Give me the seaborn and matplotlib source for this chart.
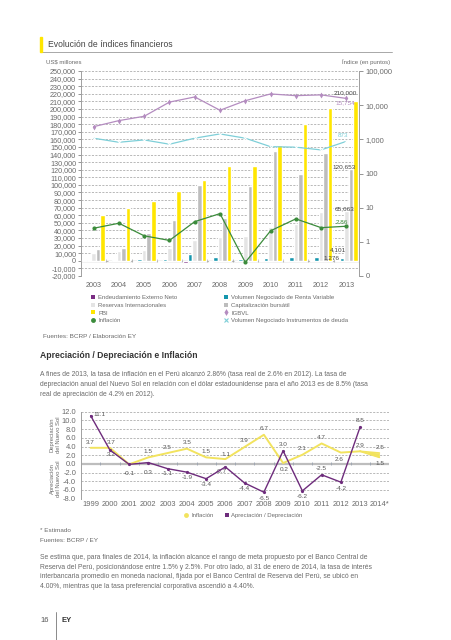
import numpy as np
import pandas as pd
import matplotlib
matplotlib.use("Agg")
import matplotlib.pyplot as plt
import seaborn as sns
from matplotlib.lines import Line2D
from matplotlib.ticker import NullLocator

# ---------------- data: top chart ----------------
years = ['2003', '2004', '2005', '2006', '2007', '2008', '2009', '2010', '2011', '2012', '2013']
endeudamiento = [600, 300, -2000, -1500, -2500, -1200, -800, 700, 600, 900, 1276]
vol_renta_variable = [500, 700, 2000, 2800, 9000, 5000, 2400, 3300, 4600, 4600, 4101]
reservas = [10194, 12631, 14120, 17275, 27689, 31196, 33135, 44105, 48816, 63991, 65663]
capitalizacion = [15000, 17500, 36000, 54000, 100000, 57000, 98000, 144000, 114000, 142000, 120653]
pbi = [61000, 70000, 79000, 92000, 106000, 125000, 125000, 153000, 180000, 201000, 210000]
igbvl = [2350, 3530, 4730, 12300, 17400, 7100, 13500, 21300, 19000, 20000, 15754]
vol_deuda = [1080, 820, 960, 720, 1080, 1440, 1080, 610, 590, 490, 873]
inflacion_top = [2.5, 3.5, 1.5, 1.1, 3.9, 6.7, 0.25, 2.1, 4.7, 2.6, 2.86]

bar_series = ['Endeudamiento Externo Neto', 'Volumen Negociado de Renta Variable',
              'Reservas Internacionales', 'Capitalización bursátil', 'PBI']

# ---------------- data: bottom chart ----------------
years2 = ['1999', '2000', '2001', '2002', '2003', '2004', '2005', '2006', '2007',
          '2008', '2009', '2010', '2011', '2012', '2013', '2014*']
inflacion = [3.7, 3.7, -0.1, 1.5, 2.5, 3.5, 1.5, 1.1, 3.9, 6.7, 0.2, 2.1, 4.7, 2.6, 2.9]
inflacion_2014 = [2.5, 1.5]
apreciacion = [11.1, 3.2, -0.1, 0.3, -1.1, -1.9, -3.4, -0.7, -4.4, -6.5, 3.0, -6.2, -2.5, -4.2, 8.5]

# ---------------- style ----------------
sns.set_style("white")
plt.rcParams['font.family'] = ['Liberation Sans', 'DejaVu Sans']

C_PURPLE = '#7a2d83'
C_TEAL = '#1596ad'
C_LGREY = '#e4e4e4'
C_GREY = '#bdbdbd'
C_YELLOW = '#ffe600'
C_GREEN = '#3c8c3c'
C_IGBVL = '#b48cc0'
C_CYAN = '#7fcfd8'
C_TXT = '#6a6a6a'
C_GRID = '#9c9c9c'
C_SPINE = '#a0a0a0'

W, H = 451, 640
fig = plt.figure(figsize=(W / 100, H / 100), dpi=100)


def fx(x):
    return x / W


def fy(y):
    return 1 - y / H


# ---------------- header ----------------
fig.patches.append(plt.Rectangle((fx(40), fy(52)), fx(2.3), 15 / H, transform=fig.transFigure,
                                 color=C_YELLOW, zorder=5))
fig.add_artist(Line2D([fx(40), fx(392)], [fy(52), fy(52)], transform=fig.transFigure,
                      color='#9a9a9a', lw=0.6))
fig.text(fx(48), fy(44.5), 'Evolución de índices financieros', fontsize=6.2, color='#444444',
         va='center', ha='left')
fig.text(fx(46), fy(62), 'US$ millones', fontsize=4.3, color=C_TXT, va='center', ha='left')
fig.text(fx(390), fy(62), 'Índice (en puntos)', fontsize=4.3, color=C_TXT, va='center', ha='right')

# ---------------- top chart ----------------
ax = fig.add_axes([fx(81), fy(276), fx(359) - fx(81), fy(71) - fy(276)])
rows = []
for name, vals in zip(bar_series, [endeudamiento, vol_renta_variable, reservas, capitalizacion, pbi]):
    for yr, v in zip(years, vals):
        rows.append({'Año': yr, 'Serie': name, 'Valor': v})
df = pd.DataFrame(rows)
sns.barplot(data=df, x='Año', y='Valor', hue='Serie', hue_order=bar_series,
            palette=[C_PURPLE, C_TEAL, C_LGREY, C_GREY, C_YELLOW], width=0.9,
            saturation=1, errorbar=None, legend=False, ax=ax, zorder=3)
ax.set_xlim(-0.5, len(years) - 0.5)
ax.set_ylim(-20000, 250000)
yt = list(range(-20000, 250001, 10000))
ax.set_yticks(yt)
ax.set_yticklabels([f'{v:,}' for v in yt])
ax.set_xlabel('')
ax.set_ylabel('')
ax.yaxis.grid(True, linestyle=(0, (3, 2)), color=C_GRID, lw=0.5)
ax.xaxis.grid(False)
ax.set_axisbelow(True)
ax.axhline(0, color='#b5b5b5', lw=1.0, zorder=2)
ax.vlines(np.arange(0.5, len(years) - 1, 1), -1800, 1800, color=C_SPINE, lw=0.5, zorder=2)
for s in ['top', 'bottom']:
    ax.spines[s].set_visible(False)
for s in ['left', 'right']:
    ax.spines[s].set_color(C_SPINE)
    ax.spines[s].set_linewidth(0.7)
ax.tick_params(axis='y', labelsize=5.2, colors=C_TXT, length=2, width=0.5, pad=1.5)
ax.tick_params(axis='x', which='major', labelsize=5.2, colors=C_TXT, length=0, pad=4)
ax.set_xticks(np.arange(0.5, len(years) - 1, 1), minor=True)
ax.tick_params(axis='x', which='minor', length=4, width=0.5, color=C_SPINE)

ax2 = ax.twinx()
ax2.set_yscale('log')
pos = np.arange(len(years))
sns.lineplot(x=pos, y=igbvl, ax=ax2, color=C_IGBVL, marker='d', markersize=3,
             markeredgewidth=0, lw=0.9)
sns.lineplot(x=pos, y=vol_deuda, ax=ax2, color=C_CYAN, marker='x', markersize=3,
             markeredgewidth=0.7, lw=0.9)
sns.lineplot(x=pos, y=inflacion_top, ax=ax2, color=C_GREEN, marker='o', markersize=3,
             markeredgewidth=0, lw=0.9)
ax2.set_ylim(0.1, 1e5)
ax2.set_xlim(-0.5, len(years) - 0.5)
ax2.set_yticks([0.1, 1, 10, 100, 1000, 10000, 100000])
ax2.set_yticklabels(['0', '1', '10', '100', '1,000', '10,000', '100,000'])
ax2.yaxis.set_minor_locator(NullLocator())
ax2.set_xlabel('')
ax2.set_ylabel('')
for s in ['top', 'bottom', 'left']:
    ax2.spines[s].set_visible(False)
ax2.spines['right'].set_color(C_SPINE)
ax2.spines['right'].set_linewidth(0.7)
ax2.tick_params(axis='y', labelsize=5.4, colors=C_TXT, length=3, width=0.5, pad=1.5)

last = len(years) - 1
ann = dict(textcoords='offset pixels', ha='right', va='center', fontsize=4.6)
ax.annotate(f'{pbi[-1]:,}', (last, pbi[-1]), xytext=(10.6, 8.3), color='#444444', **ann)
ax2.annotate(f'{igbvl[-1]:,}', (last, igbvl[-1]), xytext=(8.6, -4.6), color=C_IGBVL, **ann)
ax2.annotate(f'{vol_deuda[-1]:,}', (last, vol_deuda[-1]), xytext=(1.6, 5.9), color=C_CYAN, **ann)
ax.annotate(f'{capitalizacion[-1]:,}', (last, capitalizacion[-1]), xytext=(9.6, 2.5), color='#444444', **ann)
ax.annotate(f'{reservas[-1]:,}', (last, reservas[-1]), xytext=(7.6, 2.6), color='#444444', **ann)
ax2.annotate(f'{inflacion_top[-1]:.2f}', (last, inflacion_top[-1]), xytext=(1.6, 3.7), color=C_GREEN, **ann)
ax.annotate(f'{vol_renta_variable[-1]:,}', (last, vol_renta_variable[-1]), xytext=(-0.4, 8), color='#444444', **ann)
ax.annotate(f'{endeudamiento[-1]:,}', (last, endeudamiento[-1]), xytext=(-6.4, 2), color='#444444', **ann)

# legends top
sq = dict(ls='none', marker='s', markersize=3.2, markeredgewidth=0)
h_left = [Line2D([], [], color=C_PURPLE, **sq), Line2D([], [], color=C_LGREY, **sq),
          Line2D([], [], color=C_YELLOW, **sq),
          Line2D([], [], color=C_GREEN, marker='o', markersize=3.5, ls='none', markeredgewidth=0)]
l_left = ['Endeudamiento Externo Neto', 'Reservas Internacionales', 'PBI', 'Inflación']
h_right = [Line2D([], [], color=C_TEAL, **sq), Line2D([], [], color=C_GREY, **sq),
           Line2D([], [], color=C_IGBVL, marker='d', markersize=3.5, ls='none', markeredgewidth=0),
           Line2D([], [], color=C_CYAN, marker='x', markersize=3.2, ls='none', markeredgewidth=0.8)]
l_right = ['Volumen Negociado de Renta Variable', 'Capitalización bursátil', 'IGBVL',
           'Volumen Negociado Instrumentos de deuda']
leg_kw = dict(loc='upper left', frameon=False, fontsize=4.3, handlelength=0.8,
              handletextpad=0.4, labelspacing=0.42, borderpad=0, labelcolor=C_TXT)
fig.legend(h_left, l_left, bbox_to_anchor=(fx(88), fy(292)), **leg_kw)
fig.legend(h_right, l_right, bbox_to_anchor=(fx(221), fy(292)), **leg_kw)

fig.text(fx(43), fy(336), 'Fuentes: BCRP / Elaboración EY', fontsize=4.6, color=C_TXT,
         va='center', ha='left')

# ---------------- middle text ----------------
fig.text(fx(40), fy(355.7), 'Apreciación / Depreciación e Inflación', fontsize=6.2,
         color='#333333', weight='bold', va='center', ha='left')
para1 = ['A fines de 2013, la tasa de inflación en el Perú alcanzó 2.86% (tasa real de 2.6% en 2012). La tasa de',
         'depreciación anual del Nuevo Sol en relación con el dólar estadounidense para el año 2013 es de 8.5% (tasa',
         'real de apreciación de 4.2% en 2012).']
for i, line in enumerate(para1):
    fig.text(fx(40), fy(375 + 10 * i), line, fontsize=4.85, color=C_TXT, va='center', ha='left')

# ---------------- bottom chart ----------------
C_Y2 = '#f2e35e'
C_P2 = '#6e2c7c'
ax3 = fig.add_axes([fx(81), fy(498.7), fx(389) - fx(81), fy(411.7) - fy(498.7)])
x2 = np.arange(len(inflacion))
sns.lineplot(x=x2, y=inflacion, ax=ax3, color=C_Y2, lw=1.4, zorder=3)
x14 = [len(inflacion) - 1, len(inflacion)]
ax3.fill_between(x14, [inflacion[-1], inflacion_2014[1]], [inflacion[-1], inflacion_2014[0]],
                 color=C_Y2, lw=0, zorder=3)
ax3.plot(x14, [inflacion[-1], inflacion_2014[0]], color=C_Y2, lw=1.2, zorder=3)
ax3.plot(x14, [inflacion[-1], inflacion_2014[1]], color=C_Y2, lw=1.2, zorder=3)
sns.lineplot(x=x2, y=apreciacion, ax=ax3, color=C_P2, lw=1.0, marker='o', markersize=2.3,
             markeredgewidth=0, zorder=4)
ax3.set_xlim(-0.5, len(years2) - 0.5)
ax3.set_ylim(-8, 12)
ax3.set_yticks(np.arange(-8, 12.1, 2))
ax3.set_yticklabels([f'{v:.1f}' for v in np.arange(-8, 12.1, 2)])
ax3.set_xticks(np.arange(len(years2)))
ax3.set_xticklabels(years2)
ax3.set_xticks(np.arange(0.5, len(years2) - 1, 1), minor=True)
ax3.set_xlabel('')
ax3.set_ylabel('')
ax3.yaxis.grid(True, linestyle=(0, (3, 2)), color=C_GRID, lw=0.5)
ax3.xaxis.grid(False)
ax3.set_axisbelow(True)
ax3.axhline(0, color='#bdbdbd', lw=1.6, zorder=1)
ax3.vlines(np.arange(0.5, len(years2) - 1, 1), -0.35, 0.35, color='#9aa3b0', lw=0.6, zorder=1)
for s in ['top', 'bottom', 'right']:
    ax3.spines[s].set_visible(False)
ax3.spines['left'].set_color(C_SPINE)
ax3.spines['left'].set_linewidth(0.7)
ax3.tick_params(axis='y', labelsize=5.4, colors=C_TXT, length=2, width=0.5, pad=1.5)
ax3.tick_params(axis='x', which='major', labelsize=5.4, colors=C_TXT, length=0, pad=2)
ax3.tick_params(axis='x', which='minor', length=3, width=0.5, color=C_SPINE)

lab = dict(textcoords='offset pixels', ha='center', va='center', fontsize=4.6, color='#555555')
y_off = {0: (0, 5), 1: (1, 5), 2: (0, -9), 3: (0, 6), 4: (0, 6), 5: (0, 6), 6: (0, 6), 7: (1, 5),
         8: (0, 6), 9: (0, 6), 10: (1, -6), 11: (0, 6), 12: (0, 6), 13: (-2, -7), 14: (0, 6)}
for i, v in enumerate(inflacion):
    ax3.annotate(f'{v:.1f}', (i, v), xytext=y_off[i], **lab)
ax3.annotate(f'{inflacion_2014[0]:.1f}', (len(inflacion), inflacion_2014[0]), xytext=(1, 6), **lab)
ax3.annotate(f'{inflacion_2014[1]:.1f}', (len(inflacion), inflacion_2014[1]), xytext=(1, -6), **lab)
p_off = {0: (9, 1), 1: (1, -5), 3: (0, -10), 4: (0, -5), 5: (0, -5), 6: (0, -6), 7: (-4, -5),
         8: (0, -5), 9: (0, -6), 10: (0, 6), 11: (0, -6), 12: (0, 6), 13: (0, -6), 14: (0, 6)}
for i, v in enumerate(apreciacion):
    if i in p_off:
        ax3.annotate(f'{v:.1f}', (i, v), xytext=p_off[i], **lab)

fig.text(fx(52), fy(435), 'Depreciación', rotation=90, fontsize=4.2, color=C_TXT, va='center', ha='center')
fig.text(fx(59), fy(435), 'del Nuevo Sol', rotation=90, fontsize=4.2, color=C_TXT, va='center', ha='center')
fig.text(fx(52), fy(479), 'Apreciación', rotation=90, fontsize=4.2, color=C_TXT, va='center', ha='center')
fig.text(fx(59), fy(479), 'del Nuevo Sol', rotation=90, fontsize=4.2, color=C_TXT, va='center', ha='center')

h2 = [Line2D([], [], color=C_Y2, marker='o', markersize=3.5, ls='none', markeredgewidth=0),
      Line2D([], [], color=C_P2, marker='s', markersize=3.2, ls='none', markeredgewidth=0)]
fig.legend(h2, ['Inflación', 'Apreciación / Depreciación'], ncol=2, loc='upper left',
           bbox_to_anchor=(fx(181), fy(509.5)), frameon=False, fontsize=4.3, handlelength=0.8,
           handletextpad=0.4, columnspacing=1.8, borderpad=0, labelcolor=C_TXT)

fig.text(fx(40), fy(531), '* Estimado', fontsize=4.6, color=C_TXT, va='center', ha='left')
fig.text(fx(40), fy(540), 'Fuentes: BCRP / EY', fontsize=4.6, color=C_TXT, va='center', ha='left')

para2 = ['Se estima que, para finales de 2014, la inflación alcance el rango de meta propuesto por el Banco Central de',
         'Reserva del Perú, posicionándose entre 1.5% y 2.5%. Por otro lado, al 31 de enero de 2014, la tasa de interés',
         'interbancaria promedio en moneda nacional, fijada por el Banco Central de Reserva del Perú, se ubicó en',
         '4.00%, mientras que la tasa preferencial corporativa ascendió a 4.40%.']
for i, line in enumerate(para2):
    fig.text(fx(40), fy(557.7 + 9.65 * i), line, fontsize=4.85, color=C_TXT, va='center', ha='left')

# footer
fig.text(fx(40), fy(620.5), '16', fontsize=5.5, color='#555555', va='center', ha='left')
fig.add_artist(Line2D([fx(56), fx(56)], [fy(612), fy(640)], transform=fig.transFigure,
                      color='#777777', lw=0.6))
fig.text(fx(61), fy(620.5), 'EY', fontsize=5.5, color='#333333', weight='bold', va='center', ha='left')

fig.savefig('out.png', dpi=100)
